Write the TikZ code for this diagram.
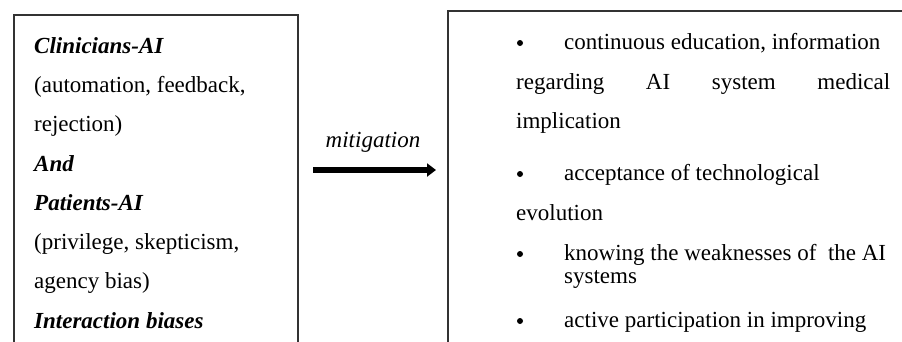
\documentclass[tikz,border=0pt]{standalone}
\usepackage{fontspec}
\setmainfont{Liberation Serif}
\usetikzlibrary{arrows.meta}
\begin{document}
\begin{tikzpicture}[x=1pt,y=-1pt,
  boxline/.style={draw=black!80, line width=1.4pt},
  txt/.style={anchor=base west, inner sep=0pt, font=\fontsize{23}{27}\selectfont},
  lbl/.style={anchor=base, inner sep=0pt, font=\fontsize{23}{27}\selectfont},
  bul/.style={circle, fill=black, inner sep=0pt, minimum size=6pt},
  flow/.style={line width=5.5pt, -{Triangle[length=9pt,width=13pt]}}]
\useasboundingbox (0,0) rectangle (902,341);
\fill[white] (0,0) rectangle (902,341);
% boxes (open at the bottom / right, cut by the frame)
\draw[boxline] (14,342) -- (14,15) -- (298,15) -- (298,342);
\draw[boxline] (448,342) -- (448,11) -- (903,11);
% left text
\node[txt] (l1) at (34,53) {\textbf{\textit{Clinicians-AI}}};
\node[txt] (l2) at (34,92) {(automation, feedback,};
\node[txt] (l3) at (34,131) {rejection)};
\node[txt] (l4) at (34,171) {\textbf{\textit{And}}};
\node[txt] (l5) at (34,210) {\textbf{\textit{Patients-AI}}};
\node[txt] (l6) at (34,249) {(privilege, skepticism,};
\node[txt] (l7) at (34,288) {agency bias)};
\node[txt] (l8) at (34,328) {\textbf{\textit{Interaction biases}}};
% arrow
\coordinate (as) at (313,170);
\coordinate (ae) at (436,170);
\draw[flow] (as) -- (ae);
\node[lbl] (mit) at (373,147) {\textit{mitigation}};
% right text
\node[bul] (b1) at (520,43) {};
\node[txt] (r1) at (564,49) {continuous education, information};
\node[txt] (r2) at (516,89) {\makebox[374pt][s]{regarding\hfill AI\hfill system\hfill medical}};
\node[txt] (r3) at (516,128) {implication};
\node[bul] (b2) at (520,174) {};
\node[txt] (r4) at (564,180) {acceptance of technological};
\node[txt] (r5) at (516,220) {evolution};
\node[bul] (b3) at (520,254) {};
\node[txt] (r6) at (564,260) {knowing the weaknesses of\ \ the AI};
\node[txt] (r7) at (564,283) {systems};
\node[bul] (b4) at (520,321) {};
\node[txt] (r8) at (564,327) {active participation in improving};
\end{tikzpicture}
\end{document}
